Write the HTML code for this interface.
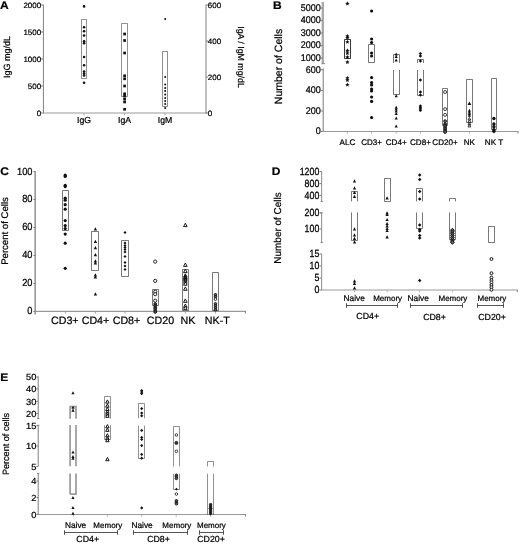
<!DOCTYPE html>
<html><head><meta charset="utf-8"><title>Figure</title>
<style>
html,body{margin:0;padding:0;background:#fff;}
svg{display:block;}
text{font-family:"Liberation Sans",sans-serif;fill:#000;stroke:#000;stroke-width:0.22px;text-rendering:geometricPrecision;}
</style></head>
<body>
<svg width="520" height="547" viewBox="0 0 520 547">
<rect width="520" height="547" fill="#fff"/>
<g id="A">
<text transform="translate(0 8.8) scale(1 0.92)" font-size="12" text-anchor="start" font-weight="bold">A</text>
<line x1="43.4" y1="4.5" x2="43.4" y2="113.5" stroke="#707070" stroke-width="0.9"/>
<line x1="43" y1="113" x2="207" y2="113" stroke="#999" stroke-width="1.2"/>
<line x1="206" y1="4.5" x2="206" y2="113.5" stroke="#707070" stroke-width="0.9"/>
<line x1="41" y1="5" x2="43" y2="5" stroke="#7f7f7f" stroke-width="1"/>
<text transform="translate(41.2 7.78) scale(1 0.97)" font-size="8.0" text-anchor="end">2000</text>
<line x1="41" y1="32" x2="43" y2="32" stroke="#7f7f7f" stroke-width="1"/>
<text transform="translate(41.2 34.78) scale(1 0.97)" font-size="8.0" text-anchor="end">1500</text>
<line x1="41" y1="59" x2="43" y2="59" stroke="#7f7f7f" stroke-width="1"/>
<text transform="translate(41.2 61.78) scale(1 0.97)" font-size="8.0" text-anchor="end">1000</text>
<line x1="41" y1="86" x2="43" y2="86" stroke="#7f7f7f" stroke-width="1"/>
<text transform="translate(41.2 88.78) scale(1 0.97)" font-size="8.0" text-anchor="end">500</text>
<line x1="41" y1="113" x2="43" y2="113" stroke="#7f7f7f" stroke-width="1"/>
<text transform="translate(41.2 115.78) scale(1 0.97)" font-size="8.0" text-anchor="end">0</text>
<line x1="206" y1="5" x2="208" y2="5" stroke="#7f7f7f" stroke-width="1"/>
<text transform="translate(207.8 7.78) scale(1 0.97)" font-size="8.0" text-anchor="start">600</text>
<line x1="206" y1="41" x2="208" y2="41" stroke="#7f7f7f" stroke-width="1"/>
<text transform="translate(207.8 43.78) scale(1 0.97)" font-size="8.0" text-anchor="start">400</text>
<line x1="206" y1="77" x2="208" y2="77" stroke="#7f7f7f" stroke-width="1"/>
<text transform="translate(207.8 79.78) scale(1 0.97)" font-size="8.0" text-anchor="start">200</text>
<line x1="206" y1="113" x2="208" y2="113" stroke="#7f7f7f" stroke-width="1"/>
<text transform="translate(207.8 115.78) scale(1 0.97)" font-size="8.0" text-anchor="start">0</text>
<text transform="translate(9.5 57) rotate(-90)" font-size="9" text-anchor="middle">IgG mg/dL</text>
<text transform="translate(238 57) rotate(90)" font-size="8.8" text-anchor="middle">IgA / IgM mg/dL</text>
<line x1="84" y1="113.5" x2="84" y2="115.2" stroke="#999" stroke-width="0.9"/>
<text transform="translate(84 123.1)" font-size="8.7" text-anchor="middle">IgG</text>
<line x1="124.6" y1="113.5" x2="124.6" y2="115.2" stroke="#999" stroke-width="0.9"/>
<text transform="translate(124.6 123.1)" font-size="8.7" text-anchor="middle">IgA</text>
<line x1="165" y1="113.5" x2="165" y2="115.2" stroke="#999" stroke-width="0.9"/>
<text transform="translate(165 123.1)" font-size="8.7" text-anchor="middle">IgM</text>
<path d="M81.5 78.5L81.5 19.5L86.5 19.5L86.5 78.5L81.5 78.5" fill="none" stroke="#444" stroke-width="0.6"/>
<circle cx="84.1" cy="6.4" r="1.3" fill="#111" stroke="none" stroke-width="0.7"/>
<circle cx="84.1" cy="27.2" r="1.3" fill="#111" stroke="none" stroke-width="0.7"/>
<circle cx="84.1" cy="31.2" r="1.3" fill="#111" stroke="none" stroke-width="0.7"/>
<circle cx="84.1" cy="35.5" r="1.3" fill="#111" stroke="none" stroke-width="0.7"/>
<circle cx="84.1" cy="41.2" r="1.3" fill="#111" stroke="none" stroke-width="0.7"/>
<circle cx="84.1" cy="43.2" r="1.3" fill="#111" stroke="none" stroke-width="0.7"/>
<circle cx="84.1" cy="57" r="1.3" fill="#111" stroke="none" stroke-width="0.7"/>
<circle cx="84.1" cy="65.2" r="1.3" fill="#111" stroke="none" stroke-width="0.7"/>
<circle cx="84.1" cy="71.5" r="1.3" fill="#111" stroke="none" stroke-width="0.7"/>
<circle cx="84.1" cy="73.5" r="1.3" fill="#111" stroke="none" stroke-width="0.7"/>
<circle cx="84.1" cy="75.5" r="1.3" fill="#111" stroke="none" stroke-width="0.7"/>
<circle cx="84.1" cy="82.8" r="1.3" fill="#111" stroke="none" stroke-width="0.7"/>
<path d="M121.5 96.5L121.5 23.5L127.5 23.5L127.5 96.5L121.5 96.5" fill="none" stroke="#444" stroke-width="0.6"/>
<rect x="123.25" y="32.65" width="2.7" height="2.7" fill="#111"/>
<rect x="123.25" y="39.15" width="2.7" height="2.7" fill="#111"/>
<rect x="123.25" y="51.65" width="2.7" height="2.7" fill="#111"/>
<rect x="123.25" y="74.45" width="2.7" height="2.7" fill="#111"/>
<rect x="123.25" y="77.45" width="2.7" height="2.7" fill="#111"/>
<rect x="123.25" y="84.65" width="2.7" height="2.7" fill="#111"/>
<rect x="123.25" y="92.45" width="2.7" height="2.7" fill="#111"/>
<rect x="123.25" y="94.65" width="2.7" height="2.7" fill="#111"/>
<rect x="123.25" y="97.65" width="2.7" height="2.7" fill="#111"/>
<rect x="123.25" y="100.65" width="2.7" height="2.7" fill="#111"/>
<rect x="123.25" y="107.95" width="2.7" height="2.7" fill="#111"/>
<path d="M162.5 106.5L162.5 51.5L167.5 51.5L167.5 106.5L162.5 106.5" fill="none" stroke="#444" stroke-width="0.6"/>
<circle cx="165.2" cy="19" r="1.0" fill="#111" stroke="none" stroke-width="0.7"/>
<circle cx="165.2" cy="77" r="1.0" fill="#111" stroke="none" stroke-width="0.7"/>
<circle cx="165.2" cy="84.5" r="1.0" fill="#111" stroke="none" stroke-width="0.7"/>
<circle cx="165.2" cy="88" r="1.0" fill="#111" stroke="none" stroke-width="0.7"/>
<circle cx="165.2" cy="91" r="1.0" fill="#111" stroke="none" stroke-width="0.7"/>
<circle cx="165.2" cy="94.5" r="1.0" fill="#111" stroke="none" stroke-width="0.7"/>
<circle cx="165.2" cy="98" r="1.0" fill="#111" stroke="none" stroke-width="0.7"/>
<circle cx="165.2" cy="101" r="1.0" fill="#111" stroke="none" stroke-width="0.7"/>
<circle cx="165.2" cy="104" r="1.0" fill="#111" stroke="none" stroke-width="0.7"/>
<circle cx="165.2" cy="108" r="1.0" fill="#111" stroke="none" stroke-width="0.7"/>
</g>
<g id="B">
<text transform="translate(273 8.8) scale(1 0.92)" font-size="12" text-anchor="start" font-weight="bold">B</text>
<line x1="322.8" y1="2" x2="322.8" y2="63.5" stroke="#a8a8a8" stroke-width="2.3"/>
<line x1="323.2" y1="68.2" x2="323.2" y2="131.5" stroke="#868686" stroke-width="1.1"/>
<line x1="321.5" y1="63.7" x2="325" y2="63.7" stroke="#7f7f7f" stroke-width="1"/>
<line x1="323" y1="131.5" x2="518.5" y2="131.5" stroke="#999" stroke-width="1.2"/>
<line x1="518" y1="131.5" x2="518" y2="133.5" stroke="#7f7f7f" stroke-width="1"/>
<line x1="320.6" y1="8" x2="323" y2="8" stroke="#7f7f7f" stroke-width="1"/>
<text transform="translate(320.7 10.88) scale(1 1.08)" font-size="9.0" text-anchor="end">5000</text>
<line x1="320.6" y1="20.4" x2="323" y2="20.4" stroke="#7f7f7f" stroke-width="1"/>
<text transform="translate(320.7 23.28) scale(1 1.08)" font-size="9.0" text-anchor="end">4000</text>
<line x1="320.6" y1="33" x2="323" y2="33" stroke="#7f7f7f" stroke-width="1"/>
<text transform="translate(320.7 35.88) scale(1 1.08)" font-size="9.0" text-anchor="end">3000</text>
<line x1="320.6" y1="45.6" x2="323" y2="45.6" stroke="#7f7f7f" stroke-width="1"/>
<text transform="translate(320.7 48.48) scale(1 1.08)" font-size="9.0" text-anchor="end">2000</text>
<line x1="320.6" y1="58" x2="323" y2="58" stroke="#7f7f7f" stroke-width="1"/>
<text transform="translate(320.7 60.88) scale(1 1.08)" font-size="9.0" text-anchor="end">1000</text>
<line x1="320.6" y1="69.8" x2="323" y2="69.8" stroke="#7f7f7f" stroke-width="1"/>
<text transform="translate(320.7 72.68) scale(1 1.08)" font-size="9.0" text-anchor="end">600</text>
<line x1="320.6" y1="90.4" x2="323" y2="90.4" stroke="#7f7f7f" stroke-width="1"/>
<text transform="translate(320.7 93.28) scale(1 1.08)" font-size="9.0" text-anchor="end">400</text>
<line x1="320.6" y1="111" x2="323" y2="111" stroke="#7f7f7f" stroke-width="1"/>
<text transform="translate(320.7 113.88) scale(1 1.08)" font-size="9.0" text-anchor="end">200</text>
<line x1="320.6" y1="131.4" x2="323" y2="131.4" stroke="#7f7f7f" stroke-width="1"/>
<text transform="translate(320.7 134.28) scale(1 1.08)" font-size="9.0" text-anchor="end">0</text>
<text transform="translate(282.4 66.5) rotate(-90)" font-size="10.5" text-anchor="middle">Number of Cells</text>
<line x1="347.4" y1="132" x2="347.4" y2="133.6" stroke="#aaa" stroke-width="0.9"/>
<text transform="translate(347.4 144.8)" font-size="8.1" text-anchor="middle">ALC</text>
<line x1="371.6" y1="132" x2="371.6" y2="133.6" stroke="#aaa" stroke-width="0.9"/>
<text transform="translate(371.6 144.8)" font-size="8.1" text-anchor="middle">CD3+</text>
<line x1="396.2" y1="132" x2="396.2" y2="133.6" stroke="#aaa" stroke-width="0.9"/>
<text transform="translate(396.2 144.8)" font-size="8.1" text-anchor="middle">CD4+</text>
<line x1="420.4" y1="132" x2="420.4" y2="133.6" stroke="#aaa" stroke-width="0.9"/>
<text transform="translate(420.4 144.8)" font-size="8.1" text-anchor="middle">CD8+</text>
<line x1="445" y1="132" x2="445" y2="133.6" stroke="#aaa" stroke-width="0.9"/>
<text transform="translate(445 144.8)" font-size="8.1" text-anchor="middle">CD20+</text>
<line x1="469.4" y1="132" x2="469.4" y2="133.6" stroke="#aaa" stroke-width="0.9"/>
<text transform="translate(469.4 144.8)" font-size="8.1" text-anchor="middle">NK</text>
<line x1="494" y1="132" x2="494" y2="133.6" stroke="#aaa" stroke-width="0.9"/>
<text transform="translate(494 144.8)" font-size="8.1" text-anchor="middle">NK T</text>
<path d="M344.5 58.5L344.5 39.5L350.5 39.5L350.5 58.5L344.5 58.5" fill="none" stroke="#222" stroke-width="0.9"/>
<polygon points="347.40,1.30 348.01,2.76 349.59,2.89 348.38,3.92 348.75,5.46 347.40,4.63 346.05,5.46 346.42,3.92 345.21,2.89 346.79,2.76" fill="#111"/>
<polygon points="347.40,33.90 348.01,35.36 349.59,35.49 348.38,36.52 348.75,38.06 347.40,37.23 346.05,38.06 346.42,36.52 345.21,35.49 346.79,35.36" fill="#111"/>
<polygon points="347.40,35.30 348.01,36.76 349.59,36.89 348.38,37.92 348.75,39.46 347.40,38.63 346.05,39.46 346.42,37.92 345.21,36.89 346.79,36.76" fill="#111"/>
<polygon points="347.40,39.70 348.01,41.16 349.59,41.29 348.38,42.32 348.75,43.86 347.40,43.03 346.05,43.86 346.42,42.32 345.21,41.29 346.79,41.16" fill="#111"/>
<polygon points="347.40,48.30 348.01,49.76 349.59,49.89 348.38,50.92 348.75,52.46 347.40,51.63 346.05,52.46 346.42,50.92 345.21,49.89 346.79,49.76" fill="#111"/>
<polygon points="347.40,51.00 348.01,52.46 349.59,52.59 348.38,53.62 348.75,55.16 347.40,54.33 346.05,55.16 346.42,53.62 345.21,52.59 346.79,52.46" fill="#111"/>
<polygon points="347.40,54.90 348.01,56.36 349.59,56.49 348.38,57.52 348.75,59.06 347.40,58.23 346.05,59.06 346.42,57.52 345.21,56.49 346.79,56.36" fill="#111"/>
<polygon points="347.40,59.90 348.01,61.36 349.59,61.49 348.38,62.52 348.75,64.06 347.40,63.23 346.05,64.06 346.42,62.52 345.21,61.49 346.79,61.36" fill="#111"/>
<polygon points="347.40,75.70 348.01,77.16 349.59,77.29 348.38,78.32 348.75,79.86 347.40,79.03 346.05,79.86 346.42,78.32 345.21,77.29 346.79,77.16" fill="#111"/>
<polygon points="347.40,77.90 348.01,79.36 349.59,79.49 348.38,80.52 348.75,82.06 347.40,81.23 346.05,82.06 346.42,80.52 345.21,79.49 346.79,79.36" fill="#111"/>
<polygon points="347.40,82.50 348.01,83.96 349.59,84.09 348.38,85.12 348.75,86.66 347.40,85.83 346.05,86.66 346.42,85.12 345.21,84.09 346.79,83.96" fill="#111"/>
<path d="M368.5 62.5L368.5 44.5L374.5 44.5L374.5 62.5L368.5 62.5" fill="none" stroke="#303030" stroke-width="0.65"/>
<circle cx="371.6" cy="11" r="1.6" fill="#111" stroke="none" stroke-width="0.7"/>
<circle cx="371.6" cy="39" r="1.6" fill="#111" stroke="none" stroke-width="0.7"/>
<circle cx="371.6" cy="42.6" r="1.6" fill="#111" stroke="none" stroke-width="0.7"/>
<circle cx="371.6" cy="53" r="1.6" fill="#111" stroke="none" stroke-width="0.7"/>
<circle cx="371.6" cy="56" r="1.6" fill="#111" stroke="none" stroke-width="0.7"/>
<circle cx="371.6" cy="77.6" r="1.6" fill="#111" stroke="none" stroke-width="0.7"/>
<circle cx="371.6" cy="82.6" r="1.6" fill="#111" stroke="none" stroke-width="0.7"/>
<circle cx="371.6" cy="85" r="1.6" fill="#111" stroke="none" stroke-width="0.7"/>
<circle cx="371.6" cy="89" r="1.6" fill="#111" stroke="none" stroke-width="0.7"/>
<circle cx="371.6" cy="91" r="1.6" fill="#111" stroke="none" stroke-width="0.7"/>
<circle cx="371.6" cy="97" r="1.6" fill="#111" stroke="none" stroke-width="0.7"/>
<circle cx="371.6" cy="101.4" r="1.6" fill="#111" stroke="none" stroke-width="0.7"/>
<circle cx="371.6" cy="117.6" r="1.6" fill="#111" stroke="none" stroke-width="0.7"/>
<path d="M393.5 63L393.5 54.5L399.5 54.5L399.5 63" fill="none" stroke="#303030" stroke-width="0.65"/>
<path d="M393.5 94.5L393.5 70M399.5 70L399.5 94.5L393.5 94.5" fill="none" stroke="#303030" stroke-width="0.65"/>
<path d="M396.2 52.4L397.8 55.44L394.59999999999997 55.44Z" fill="#111" stroke="none" stroke-width="0.7"/>
<path d="M396.2 54.9L397.8 57.94L394.59999999999997 57.94Z" fill="#111" stroke="none" stroke-width="0.7"/>
<path d="M396.2 58.4L397.8 61.44L394.59999999999997 61.44Z" fill="#111" stroke="none" stroke-width="0.7"/>
<path d="M396.2 94.2L397.8 97.24L394.59999999999997 97.24Z" fill="#111" stroke="none" stroke-width="0.7"/>
<path d="M396.2 105.80000000000001L397.8 108.84L394.59999999999997 108.84Z" fill="#111" stroke="none" stroke-width="0.7"/>
<path d="M396.2 107.4L397.8 110.44L394.59999999999997 110.44Z" fill="#111" stroke="none" stroke-width="0.7"/>
<path d="M396.2 109.4L397.8 112.44L394.59999999999997 112.44Z" fill="#111" stroke="none" stroke-width="0.7"/>
<path d="M396.2 112.0L397.8 115.03999999999999L394.59999999999997 115.03999999999999Z" fill="#111" stroke="none" stroke-width="0.7"/>
<path d="M396.2 116.4L397.8 119.44L394.59999999999997 119.44Z" fill="#111" stroke="none" stroke-width="0.7"/>
<path d="M396.2 124.4L397.8 127.44L394.59999999999997 127.44Z" fill="#111" stroke="none" stroke-width="0.7"/>
<path d="M417.5 63L417.5 59.5L423.5 59.5L423.5 63" fill="none" stroke="#303030" stroke-width="0.65"/>
<path d="M417.5 95.5L417.5 70M423.5 70L423.5 95.5L417.5 95.5" fill="none" stroke="#303030" stroke-width="0.65"/>
<path d="M420.4 51.9L422.09999999999997 53.6L420.4 55.300000000000004L418.7 53.6Z" fill="#111" stroke="none" stroke-width="0.7"/>
<path d="M420.4 54.3L422.09999999999997 56L420.4 57.7L418.7 56Z" fill="#111" stroke="none" stroke-width="0.7"/>
<path d="M420.4 59.3L422.09999999999997 61L420.4 62.7L418.7 61Z" fill="#111" stroke="none" stroke-width="0.7"/>
<path d="M420.4 78.3L422.09999999999997 80L420.4 81.7L418.7 80Z" fill="#111" stroke="none" stroke-width="0.7"/>
<path d="M420.4 90.3L422.09999999999997 92L420.4 93.7L418.7 92Z" fill="#111" stroke="none" stroke-width="0.7"/>
<path d="M420.4 93.3L422.09999999999997 95L420.4 96.7L418.7 95Z" fill="#111" stroke="none" stroke-width="0.7"/>
<path d="M420.4 104.3L422.09999999999997 106L420.4 107.7L418.7 106Z" fill="#111" stroke="none" stroke-width="0.7"/>
<path d="M420.4 105.89999999999999L422.09999999999997 107.6L420.4 109.3L418.7 107.6Z" fill="#111" stroke="none" stroke-width="0.7"/>
<path d="M420.4 107.3L422.09999999999997 109L420.4 110.7L418.7 109Z" fill="#111" stroke="none" stroke-width="0.7"/>
<path d="M420.4 108.7L422.09999999999997 110.4L420.4 112.10000000000001L418.7 110.4Z" fill="#111" stroke="none" stroke-width="0.7"/>
<path d="M442.5 125.5L442.5 88.5L447.5 88.5L447.5 125.5L442.5 125.5" fill="none" stroke="#303030" stroke-width="0.65"/>
<circle cx="445.1" cy="92" r="1.5" fill="#fff" stroke="#111" stroke-width="0.8"/>
<circle cx="445.1" cy="109.1" r="1.5" fill="#fff" stroke="#111" stroke-width="0.8"/>
<circle cx="445.1" cy="114.9" r="1.5" fill="#fff" stroke="#111" stroke-width="0.8"/>
<circle cx="445.1" cy="121.2" r="1.4" fill="#777" stroke="#111" stroke-width="1.0"/>
<circle cx="445.1" cy="124.2" r="1.4" fill="#777" stroke="#111" stroke-width="1.0"/>
<circle cx="445.1" cy="125.8" r="1.4" fill="#777" stroke="#111" stroke-width="1.0"/>
<circle cx="445.1" cy="127.4" r="1.4" fill="#777" stroke="#111" stroke-width="1.0"/>
<circle cx="445.1" cy="129" r="1.4" fill="#777" stroke="#111" stroke-width="1.0"/>
<circle cx="445.1" cy="130.6" r="1.4" fill="#777" stroke="#111" stroke-width="1.0"/>
<circle cx="445.1" cy="132" r="1.4" fill="#777" stroke="#111" stroke-width="1.0"/>
<path d="M466.5 122.5L466.5 79.5L472.5 79.5L472.5 122.5L466.5 122.5" fill="none" stroke="#303030" stroke-width="0.65"/>
<path d="M469.4 101.5L471.29999999999995 105.11L467.5 105.11Z" fill="#111" stroke="none" stroke-width="0.7"/>
<path d="M469.4 108.80000000000001L471.0 111.84L467.79999999999995 111.84Z" fill="#111" stroke="none" stroke-width="0.7"/>
<path d="M469.4 110.4L471.0 113.44L467.79999999999995 113.44Z" fill="#111" stroke="none" stroke-width="0.7"/>
<path d="M469.4 112.0L471.0 115.03999999999999L467.79999999999995 115.03999999999999Z" fill="#111" stroke="none" stroke-width="0.7"/>
<path d="M469.4 113.60000000000001L471.0 116.64L467.79999999999995 116.64Z" fill="#111" stroke="none" stroke-width="0.7"/>
<path d="M469.4 117.3L470.79999999999995 119.96000000000001L468.0 119.96000000000001Z" fill="#fff" stroke="#111" stroke-width="0.8"/>
<path d="M469.4 119.8L470.79999999999995 122.46000000000001L468.0 122.46000000000001Z" fill="#fff" stroke="#111" stroke-width="0.8"/>
<path d="M469.4 122.3L470.79999999999995 124.96000000000001L468.0 124.96000000000001Z" fill="#fff" stroke="#111" stroke-width="0.8"/>
<path d="M469.4 124.3L470.79999999999995 126.96000000000001L468.0 126.96000000000001Z" fill="#fff" stroke="#111" stroke-width="0.8"/>
<path d="M491.5 129.5L491.5 78.5L496.5 78.5L496.5 129.5L491.5 129.5" fill="none" stroke="#303030" stroke-width="0.65"/>
<circle cx="493.9" cy="118.5" r="1.7" fill="#111" stroke="none" stroke-width="0.7"/>
<circle cx="493.9" cy="124" r="1.7" fill="#111" stroke="none" stroke-width="0.7"/>
<circle cx="493.9" cy="126.8" r="1.7" fill="#111" stroke="none" stroke-width="0.7"/>
<circle cx="493.9" cy="129.8" r="1.7" fill="#111" stroke="none" stroke-width="0.7"/>
<circle cx="493.9" cy="131.3" r="1.7" fill="#111" stroke="none" stroke-width="0.7"/>
</g>
<g id="C">
<text transform="translate(0.2 174.7) scale(1 0.92)" font-size="12" text-anchor="start" font-weight="bold">C</text>
<line x1="35.15" y1="171" x2="35.15" y2="314.5" stroke="#8a8a8a" stroke-width="1.4"/>
<line x1="35" y1="311.3" x2="246" y2="311.3" stroke="#808080" stroke-width="1.0"/>
<line x1="245.4" y1="311.5" x2="245.4" y2="313.5" stroke="#7f7f7f" stroke-width="1"/>
<line x1="33.4" y1="171.6" x2="35.2" y2="171.6" stroke="#7f7f7f" stroke-width="1"/>
<text transform="translate(32.5 174.56) scale(1 1.1)" font-size="9.3" text-anchor="end">100</text>
<line x1="33.4" y1="199.5" x2="35.2" y2="199.5" stroke="#7f7f7f" stroke-width="1"/>
<text transform="translate(32.5 202.46) scale(1 1.1)" font-size="9.3" text-anchor="end">80</text>
<line x1="33.4" y1="227.5" x2="35.2" y2="227.5" stroke="#7f7f7f" stroke-width="1"/>
<text transform="translate(32.5 230.46) scale(1 1.1)" font-size="9.3" text-anchor="end">60</text>
<line x1="33.4" y1="255.5" x2="35.2" y2="255.5" stroke="#7f7f7f" stroke-width="1"/>
<text transform="translate(32.5 258.46) scale(1 1.1)" font-size="9.3" text-anchor="end">40</text>
<line x1="33.4" y1="283.5" x2="35.2" y2="283.5" stroke="#7f7f7f" stroke-width="1"/>
<text transform="translate(32.5 286.46) scale(1 1.1)" font-size="9.3" text-anchor="end">20</text>
<line x1="33.4" y1="311.5" x2="35.2" y2="311.5" stroke="#7f7f7f" stroke-width="1"/>
<text transform="translate(32.5 314.46) scale(1 1.1)" font-size="9.3" text-anchor="end">0</text>
<text transform="translate(8.2 231) rotate(-90)" font-size="9.6" text-anchor="middle">Percent of Cells</text>
<line x1="65.4" y1="311.8" x2="65.4" y2="313.6" stroke="#999" stroke-width="0.9"/>
<line x1="95.4" y1="311.8" x2="95.4" y2="313.6" stroke="#999" stroke-width="0.9"/>
<line x1="125" y1="311.8" x2="125" y2="313.6" stroke="#999" stroke-width="0.9"/>
<line x1="155.4" y1="311.8" x2="155.4" y2="313.6" stroke="#999" stroke-width="0.9"/>
<line x1="185.4" y1="311.8" x2="185.4" y2="313.6" stroke="#999" stroke-width="0.9"/>
<line x1="215.4" y1="311.8" x2="215.4" y2="313.6" stroke="#999" stroke-width="0.9"/>
<text transform="translate(64.8 323.9)" font-size="10.7" text-anchor="middle">CD3+</text>
<text transform="translate(95.5 323.9)" font-size="10.7" text-anchor="middle">CD4+</text>
<text transform="translate(126.5 323.9)" font-size="10.7" text-anchor="middle">CD8+</text>
<text transform="translate(160.5 323.9)" font-size="10.7" text-anchor="middle">CD20</text>
<text transform="translate(188 323.9)" font-size="10.7" text-anchor="middle">NK</text>
<text transform="translate(217.3 323.9)" font-size="10.7" text-anchor="middle">NK-T</text>
<path d="M62.5 230.5L62.5 190.5L68.5 190.5L68.5 230.5L62.5 230.5" fill="none" stroke="#303030" stroke-width="0.65"/>
<circle cx="65.2" cy="175.2" r="1.6" fill="#111" stroke="none" stroke-width="0.7"/>
<circle cx="65.2" cy="176.5" r="1.6" fill="#111" stroke="none" stroke-width="0.7"/>
<circle cx="65.2" cy="185.3" r="1.6" fill="#111" stroke="none" stroke-width="0.7"/>
<circle cx="65.2" cy="186.6" r="1.6" fill="#111" stroke="none" stroke-width="0.7"/>
<circle cx="65.2" cy="198.2" r="1.6" fill="#111" stroke="none" stroke-width="0.7"/>
<circle cx="65.2" cy="200.2" r="1.6" fill="#111" stroke="none" stroke-width="0.7"/>
<circle cx="65.2" cy="204.7" r="1.6" fill="#111" stroke="none" stroke-width="0.7"/>
<circle cx="65.2" cy="209.2" r="1.6" fill="#111" stroke="none" stroke-width="0.7"/>
<circle cx="65.2" cy="220.6" r="1.6" fill="#111" stroke="none" stroke-width="0.7"/>
<circle cx="65.2" cy="225.6" r="1.6" fill="#111" stroke="none" stroke-width="0.7"/>
<circle cx="65.2" cy="228.6" r="1.6" fill="#111" stroke="none" stroke-width="0.7"/>
<circle cx="65.2" cy="234.1" r="1.6" fill="#111" stroke="none" stroke-width="0.7"/>
<circle cx="65.2" cy="243.2" r="1.6" fill="#111" stroke="none" stroke-width="0.7"/>
<circle cx="65.2" cy="268.3" r="1.6" fill="#111" stroke="none" stroke-width="0.7"/>
<path d="M91.5 270.5L91.5 231.5L98.5 231.5L98.5 270.5L91.5 270.5" fill="none" stroke="#303030" stroke-width="0.65"/>
<path d="M95.4 227.3L97.10000000000001 230.53L93.7 230.53Z" fill="#111" stroke="none" stroke-width="0.7"/>
<path d="M95.4 239.70000000000002L97.10000000000001 242.93L93.7 242.93Z" fill="#111" stroke="none" stroke-width="0.7"/>
<path d="M95.4 245.9L97.10000000000001 249.13L93.7 249.13Z" fill="#111" stroke="none" stroke-width="0.7"/>
<path d="M95.4 252.9L97.10000000000001 256.13L93.7 256.13Z" fill="#111" stroke="none" stroke-width="0.7"/>
<path d="M95.4 259.3L97.10000000000001 262.53L93.7 262.53Z" fill="#111" stroke="none" stroke-width="0.7"/>
<path d="M95.4 261.3L97.10000000000001 264.53L93.7 264.53Z" fill="#111" stroke="none" stroke-width="0.7"/>
<path d="M95.4 273.3L97.10000000000001 276.53L93.7 276.53Z" fill="#111" stroke="none" stroke-width="0.7"/>
<path d="M95.4 275.3L97.10000000000001 278.53L93.7 278.53Z" fill="#111" stroke="none" stroke-width="0.7"/>
<path d="M95.4 292.3L97.10000000000001 295.53L93.7 295.53Z" fill="#111" stroke="none" stroke-width="0.7"/>
<path d="M121.5 276.5L121.5 240.5L128.5 240.5L128.5 276.5L121.5 276.5" fill="none" stroke="#303030" stroke-width="0.65"/>
<path d="M125 230.9L126.5 232.4L125 233.9L123.5 232.4Z" fill="#111" stroke="none" stroke-width="0.7"/>
<path d="M125 241.5L126.5 243L125 244.5L123.5 243Z" fill="#111" stroke="none" stroke-width="0.7"/>
<path d="M125 243.9L126.5 245.4L125 246.9L123.5 245.4Z" fill="#111" stroke="none" stroke-width="0.7"/>
<path d="M125 245.9L126.5 247.4L125 248.9L123.5 247.4Z" fill="#111" stroke="none" stroke-width="0.7"/>
<path d="M125 247.9L126.5 249.4L125 250.9L123.5 249.4Z" fill="#111" stroke="none" stroke-width="0.7"/>
<path d="M125 250.5L126.5 252L125 253.5L123.5 252Z" fill="#111" stroke="none" stroke-width="0.7"/>
<path d="M125 255.10000000000002L126.5 256.6L125 258.1L123.5 256.6Z" fill="#111" stroke="none" stroke-width="0.7"/>
<path d="M125 260.9L126.5 262.4L125 263.9L123.5 262.4Z" fill="#111" stroke="none" stroke-width="0.7"/>
<path d="M125 264.5L126.5 266L125 267.5L123.5 266Z" fill="#111" stroke="none" stroke-width="0.7"/>
<path d="M125 268.1L126.5 269.6L125 271.1L123.5 269.6Z" fill="#111" stroke="none" stroke-width="0.7"/>
<path d="M152.5 305.5L152.5 289.5L158.5 289.5L158.5 305.5L152.5 305.5" fill="none" stroke="#303030" stroke-width="0.65"/>
<circle cx="155.2" cy="261.6" r="1.6" fill="#fff" stroke="#111" stroke-width="0.9"/>
<circle cx="155.2" cy="280.9" r="1.6" fill="#fff" stroke="#111" stroke-width="0.9"/>
<circle cx="155.2" cy="291.7" r="1.6" fill="#fff" stroke="#111" stroke-width="0.9"/>
<circle cx="155.2" cy="294.2" r="1.6" fill="#fff" stroke="#111" stroke-width="0.9"/>
<circle cx="155.2" cy="300.7" r="1.6" fill="#fff" stroke="#111" stroke-width="0.9"/>
<circle cx="155.2" cy="304" r="1.3" fill="#666" stroke="#111" stroke-width="1.0"/>
<circle cx="155.2" cy="305.6" r="1.3" fill="#666" stroke="#111" stroke-width="1.0"/>
<circle cx="155.2" cy="307.2" r="1.3" fill="#666" stroke="#111" stroke-width="1.0"/>
<circle cx="155.2" cy="308.8" r="1.3" fill="#666" stroke="#111" stroke-width="1.0"/>
<circle cx="155.2" cy="310.4" r="1.3" fill="#666" stroke="#111" stroke-width="1.0"/>
<circle cx="155.2" cy="312" r="1.3" fill="#666" stroke="#111" stroke-width="1.0"/>
<path d="M182.5 310.5L182.5 269.5L188.5 269.5L188.5 310.5L182.5 310.5" fill="none" stroke="#303030" stroke-width="0.65"/>
<path d="M185.35 223.2L187.15 226.62L183.54999999999998 226.62Z" fill="#fff" stroke="#111" stroke-width="0.95"/>
<path d="M185.35 263.0L187.15 266.42L183.54999999999998 266.42Z" fill="#fff" stroke="#111" stroke-width="0.95"/>
<path d="M185.35 269.2L187.15 272.62L183.54999999999998 272.62Z" fill="#fff" stroke="#111" stroke-width="0.95"/>
<path d="M185.35 279.8L187.15 283.22L183.54999999999998 283.22Z" fill="#fff" stroke="#111" stroke-width="0.95"/>
<path d="M185.35 281.8L187.15 285.22L183.54999999999998 285.22Z" fill="#fff" stroke="#111" stroke-width="0.95"/>
<path d="M185.35 286.9L187.15 290.32L183.54999999999998 290.32Z" fill="#fff" stroke="#111" stroke-width="0.95"/>
<path d="M185.35 298.9L187.15 302.32L183.54999999999998 302.32Z" fill="#fff" stroke="#111" stroke-width="0.95"/>
<path d="M185.35 304.0L187.15 307.42L183.54999999999998 307.42Z" fill="#fff" stroke="#111" stroke-width="0.95"/>
<path d="M185.35 306.0L187.15 309.42L183.54999999999998 309.42Z" fill="#fff" stroke="#111" stroke-width="0.95"/>
<path d="M185.35 273.8L187.15 277.22L183.54999999999998 277.22Z" fill="#444" stroke="#111" stroke-width="0.95"/>
<path d="M185.35 275.2L187.15 278.62L183.54999999999998 278.62Z" fill="#444" stroke="#111" stroke-width="0.95"/>
<path d="M185.35 276.59999999999997L187.15 280.02L183.54999999999998 280.02Z" fill="#444" stroke="#111" stroke-width="0.95"/>
<path d="M185.35 277.8L187.15 281.22L183.54999999999998 281.22Z" fill="#444" stroke="#111" stroke-width="0.95"/>
<path d="M212.5 310.5L212.5 272.5L218.5 272.5L218.5 310.5L212.5 310.5" fill="none" stroke="#303030" stroke-width="0.65"/>
<circle cx="215.45" cy="294.7" r="1.3" fill="#666" stroke="#111" stroke-width="0.9"/>
<circle cx="215.45" cy="296.7" r="1.3" fill="#666" stroke="#111" stroke-width="0.9"/>
<circle cx="215.45" cy="303.8" r="1.3" fill="#666" stroke="#111" stroke-width="0.9"/>
<circle cx="215.45" cy="305.8" r="1.3" fill="#666" stroke="#111" stroke-width="0.9"/>
<circle cx="215.45" cy="307.8" r="1.3" fill="#666" stroke="#111" stroke-width="0.9"/>
<circle cx="215.45" cy="309.8" r="1.3" fill="#666" stroke="#111" stroke-width="0.9"/>
<circle cx="215.45" cy="299.2" r="1.3" fill="#fff" stroke="#111" stroke-width="0.9"/>
</g>
<g id="D">
<text transform="translate(271.8 175.2) scale(1 0.92)" font-size="12" text-anchor="start" font-weight="bold">D</text>
<line x1="321.65" y1="171" x2="321.65" y2="201.6" stroke="#7f7f7f" stroke-width="0.9"/>
<line x1="321.65" y1="212.9" x2="321.65" y2="242.6" stroke="#7f7f7f" stroke-width="0.9"/>
<line x1="321.65" y1="253.6" x2="321.65" y2="290" stroke="#7f7f7f" stroke-width="0.9"/>
<line x1="320.6" y1="201.6" x2="322.8" y2="201.6" stroke="#7f7f7f" stroke-width="1"/>
<line x1="320" y1="212.9" x2="322.8" y2="212.9" stroke="#7f7f7f" stroke-width="1"/>
<line x1="320.6" y1="242.6" x2="322.8" y2="242.6" stroke="#7f7f7f" stroke-width="1"/>
<line x1="321.2" y1="290" x2="517.7" y2="290" stroke="#999" stroke-width="1.2"/>
<line x1="517.2" y1="290" x2="517.2" y2="292" stroke="#7f7f7f" stroke-width="1"/>
<line x1="319.6" y1="171.6" x2="321.6" y2="171.6" stroke="#7f7f7f" stroke-width="1"/>
<text transform="translate(319.3 174.92) scale(1 1.18)" font-size="8.8" text-anchor="end">1200</text>
<line x1="319.6" y1="183.6" x2="321.6" y2="183.6" stroke="#7f7f7f" stroke-width="1"/>
<text transform="translate(319.3 186.92) scale(1 1.18)" font-size="8.8" text-anchor="end">800</text>
<line x1="319.6" y1="195.4" x2="321.6" y2="195.4" stroke="#7f7f7f" stroke-width="1"/>
<text transform="translate(319.3 198.72) scale(1 1.18)" font-size="8.8" text-anchor="end">400</text>
<line x1="319.6" y1="212.9" x2="321.6" y2="212.9" stroke="#7f7f7f" stroke-width="1"/>
<text transform="translate(319.3 216.22) scale(1 1.18)" font-size="8.8" text-anchor="end">200</text>
<line x1="319.6" y1="229" x2="321.6" y2="229" stroke="#7f7f7f" stroke-width="1"/>
<text transform="translate(319.3 232.32) scale(1 1.18)" font-size="8.8" text-anchor="end">100</text>
<line x1="319.6" y1="254" x2="321.6" y2="254" stroke="#7f7f7f" stroke-width="1"/>
<text transform="translate(319.3 257.32) scale(1 1.18)" font-size="8.8" text-anchor="end">15</text>
<line x1="319.6" y1="266" x2="321.6" y2="266" stroke="#7f7f7f" stroke-width="1"/>
<text transform="translate(319.3 269.32) scale(1 1.18)" font-size="8.8" text-anchor="end">10</text>
<line x1="319.6" y1="278" x2="321.6" y2="278" stroke="#7f7f7f" stroke-width="1"/>
<text transform="translate(319.3 281.32) scale(1 1.18)" font-size="8.8" text-anchor="end">5</text>
<line x1="319.6" y1="290" x2="321.6" y2="290" stroke="#7f7f7f" stroke-width="1"/>
<text transform="translate(319.3 293.32) scale(1 1.18)" font-size="8.8" text-anchor="end">0</text>
<text transform="translate(281.4 228) rotate(-90)" font-size="9.95" text-anchor="middle">Number of Cells</text>
<line x1="354.6" y1="290.5" x2="354.6" y2="292.2" stroke="#aaa" stroke-width="0.9"/>
<line x1="387.2" y1="290.5" x2="387.2" y2="292.2" stroke="#aaa" stroke-width="0.9"/>
<line x1="419.6" y1="290.5" x2="419.6" y2="292.2" stroke="#aaa" stroke-width="0.9"/>
<line x1="452.4" y1="290.5" x2="452.4" y2="292.2" stroke="#aaa" stroke-width="0.9"/>
<line x1="491.4" y1="290.5" x2="491.4" y2="292.2" stroke="#aaa" stroke-width="0.9"/>
<text transform="translate(354.2 301.3)" font-size="8.3" text-anchor="middle">Naive</text>
<text transform="translate(387.6 301.3)" font-size="8.0" text-anchor="middle">Memory</text>
<text transform="translate(418.2 301.3)" font-size="8.3" text-anchor="middle">Naive</text>
<text transform="translate(452.9 301.3)" font-size="8.0" text-anchor="middle">Memory</text>
<text transform="translate(491.9 301.3)" font-size="8.0" text-anchor="middle">Memory</text>
<line x1="346.5" y1="305.5" x2="397.5" y2="305.5" stroke="#2a2a2a" stroke-width="0.8"/>
<line x1="346.5" y1="303.2" x2="346.5" y2="307.8" stroke="#2a2a2a" stroke-width="0.8"/>
<line x1="397.5" y1="303.2" x2="397.5" y2="307.8" stroke="#2a2a2a" stroke-width="0.8"/>
<line x1="410.5" y1="305.5" x2="462.5" y2="305.5" stroke="#2a2a2a" stroke-width="0.8"/>
<line x1="410.5" y1="303.2" x2="410.5" y2="307.8" stroke="#2a2a2a" stroke-width="0.8"/>
<line x1="462.5" y1="303.2" x2="462.5" y2="307.8" stroke="#2a2a2a" stroke-width="0.8"/>
<line x1="477.5" y1="305.5" x2="503.5" y2="305.5" stroke="#2a2a2a" stroke-width="0.8"/>
<line x1="477.5" y1="303.2" x2="477.5" y2="307.8" stroke="#2a2a2a" stroke-width="0.8"/>
<line x1="503.5" y1="303.2" x2="503.5" y2="307.8" stroke="#2a2a2a" stroke-width="0.8"/>
<text transform="translate(367.7 318.6)" font-size="8.8" text-anchor="middle">CD4+</text>
<text transform="translate(434.5 320.2)" font-size="8.8" text-anchor="middle">CD8+</text>
<text transform="translate(492 320.4)" font-size="8.8" text-anchor="middle">CD20+</text>
<path d="M351.5 201.4L351.5 191.5L357.5 191.5L357.5 201.4" fill="none" stroke="#303030" stroke-width="0.65"/>
<path d="M351.5 240.5L351.5 212.4M357.5 212.4L357.5 240.5L351.5 240.5" fill="none" stroke="#303030" stroke-width="0.65"/>
<path d="M354.5 179.35L356.15 182.485L352.85 182.485Z" fill="#111" stroke="none" stroke-width="0.7"/>
<path d="M354.5 186.35L356.15 189.485L352.85 189.485Z" fill="#111" stroke="none" stroke-width="0.7"/>
<path d="M354.5 190.75L356.15 193.88500000000002L352.85 193.88500000000002Z" fill="#111" stroke="none" stroke-width="0.7"/>
<path d="M354.5 194.75L356.15 197.88500000000002L352.85 197.88500000000002Z" fill="#111" stroke="none" stroke-width="0.7"/>
<path d="M354.5 227.35L356.15 230.485L352.85 230.485Z" fill="#111" stroke="none" stroke-width="0.7"/>
<path d="M354.5 233.35L356.15 236.485L352.85 236.485Z" fill="#111" stroke="none" stroke-width="0.7"/>
<path d="M354.5 236.75L356.15 239.88500000000002L352.85 239.88500000000002Z" fill="#111" stroke="none" stroke-width="0.7"/>
<path d="M354.5 240.35L356.15 243.485L352.85 243.485Z" fill="#111" stroke="none" stroke-width="0.7"/>
<path d="M354.5 279.35L356.15 282.485L352.85 282.485Z" fill="#111" stroke="none" stroke-width="0.7"/>
<path d="M354.5 281.75L356.15 284.885L352.85 284.885Z" fill="#111" stroke="none" stroke-width="0.7"/>
<path d="M354.5 286.35L356.15 289.485L352.85 289.485Z" fill="#111" stroke="none" stroke-width="0.7"/>
<path d="M384.5 201.5L384.5 178.5L390.5 178.5L390.5 201.5L384.5 201.5" fill="none" stroke="#303030" stroke-width="0.65"/>
<path d="M387.1 196.35L388.75 199.485L385.45000000000005 199.485Z" fill="#111" stroke="none" stroke-width="0.7"/>
<path d="M387.1 211.35L388.75 214.485L385.45000000000005 214.485Z" fill="#111" stroke="none" stroke-width="0.7"/>
<path d="M387.1 212.95L388.75 216.085L385.45000000000005 216.085Z" fill="#111" stroke="none" stroke-width="0.7"/>
<path d="M387.1 217.95L388.75 221.085L385.45000000000005 221.085Z" fill="#111" stroke="none" stroke-width="0.7"/>
<path d="M387.1 221.95L388.75 225.085L385.45000000000005 225.085Z" fill="#111" stroke="none" stroke-width="0.7"/>
<path d="M387.1 224.35L388.75 227.485L385.45000000000005 227.485Z" fill="#111" stroke="none" stroke-width="0.7"/>
<path d="M387.1 226.95L388.75 230.085L385.45000000000005 230.085Z" fill="#111" stroke="none" stroke-width="0.7"/>
<path d="M387.1 228.95L388.75 232.085L385.45000000000005 232.085Z" fill="#111" stroke="none" stroke-width="0.7"/>
<path d="M387.1 235.35L388.75 238.485L385.45000000000005 238.485Z" fill="#111" stroke="none" stroke-width="0.7"/>
<path d="M416.5 201.4L416.5 188.5L422.5 188.5L422.5 201.4" fill="none" stroke="#303030" stroke-width="0.65"/>
<path d="M416.5 228.5L416.5 212.4M422.5 212.4L422.5 228.5L416.5 228.5" fill="none" stroke="#303030" stroke-width="0.65"/>
<path d="M419.7 173.25L421.45 175L419.7 176.75L417.95 175Z" fill="#111" stroke="none" stroke-width="0.7"/>
<path d="M419.7 177.65L421.45 179.4L419.7 181.15L417.95 179.4Z" fill="#111" stroke="none" stroke-width="0.7"/>
<path d="M419.7 189.65L421.45 191.4L419.7 193.15L417.95 191.4Z" fill="#111" stroke="none" stroke-width="0.7"/>
<path d="M419.7 197.25L421.45 199L419.7 200.75L417.95 199Z" fill="#111" stroke="none" stroke-width="0.7"/>
<path d="M419.7 223.25L421.45 225L419.7 226.75L417.95 225Z" fill="#111" stroke="none" stroke-width="0.7"/>
<path d="M419.7 227.65L421.45 229.4L419.7 231.15L417.95 229.4Z" fill="#111" stroke="none" stroke-width="0.7"/>
<path d="M419.7 229.25L421.45 231L419.7 232.75L417.95 231Z" fill="#111" stroke="none" stroke-width="0.7"/>
<path d="M419.7 233.85L421.45 235.6L419.7 237.35L417.95 235.6Z" fill="#111" stroke="none" stroke-width="0.7"/>
<path d="M419.7 236.25L421.45 238L419.7 239.75L417.95 238Z" fill="#111" stroke="none" stroke-width="0.7"/>
<path d="M419.7 278.65L421.45 280.4L419.7 282.15L417.95 280.4Z" fill="#111" stroke="none" stroke-width="0.7"/>
<path d="M449.5 201.4L449.5 198.5L455.5 198.5L455.5 201.4" fill="none" stroke="#303030" stroke-width="0.65"/>
<path d="M449.5 239.5L449.5 212.4M455.5 212.4L455.5 239.5L449.5 239.5" fill="none" stroke="#303030" stroke-width="0.65"/>
<path d="M452.4 228.29999999999998L454.29999999999995 230.2L452.4 232.1L450.5 230.2Z" fill="#666" stroke="#111" stroke-width="1.0"/>
<path d="M452.4 230.1L454.29999999999995 232L452.4 233.9L450.5 232Z" fill="#666" stroke="#111" stroke-width="1.0"/>
<path d="M452.4 231.9L454.29999999999995 233.8L452.4 235.70000000000002L450.5 233.8Z" fill="#666" stroke="#111" stroke-width="1.0"/>
<path d="M452.4 233.7L454.29999999999995 235.6L452.4 237.5L450.5 235.6Z" fill="#666" stroke="#111" stroke-width="1.0"/>
<path d="M452.4 235.5L454.29999999999995 237.4L452.4 239.3L450.5 237.4Z" fill="#666" stroke="#111" stroke-width="1.0"/>
<path d="M452.4 237.29999999999998L454.29999999999995 239.2L452.4 241.1L450.5 239.2Z" fill="#666" stroke="#111" stroke-width="1.0"/>
<path d="M452.4 239.1L454.29999999999995 241L452.4 242.9L450.5 241Z" fill="#666" stroke="#111" stroke-width="1.0"/>
<path d="M452.4 240.5L454.29999999999995 242.4L452.4 244.3L450.5 242.4Z" fill="#666" stroke="#111" stroke-width="1.0"/>
<path d="M488.5 242.5L488.5 226.5L494.5 226.5L494.5 242.5L488.5 242.5" fill="none" stroke="#303030" stroke-width="0.65"/>
<circle cx="491.45" cy="259" r="1.45" fill="#fff" stroke="#111" stroke-width="1.0"/>
<circle cx="491.45" cy="273.2" r="1.45" fill="#fff" stroke="#111" stroke-width="1.0"/>
<circle cx="491.45" cy="277.5" r="1.45" fill="#fff" stroke="#111" stroke-width="1.0"/>
<circle cx="491.45" cy="280.2" r="1.45" fill="#fff" stroke="#111" stroke-width="1.0"/>
<circle cx="491.45" cy="282.5" r="1.45" fill="#fff" stroke="#111" stroke-width="1.0"/>
<circle cx="491.45" cy="285" r="1.45" fill="#fff" stroke="#111" stroke-width="1.0"/>
<circle cx="491.45" cy="287.3" r="1.45" fill="#fff" stroke="#111" stroke-width="1.0"/>
<circle cx="491.45" cy="289.7" r="1.45" fill="#fff" stroke="#111" stroke-width="1.0"/>
</g>
<g id="E">
<text transform="translate(0.2 381.4) scale(1 0.92)" font-size="12" text-anchor="start" font-weight="bold">E</text>
<line x1="38.2" y1="376.5" x2="38.2" y2="418.6" stroke="#707070" stroke-width="0.9"/>
<line x1="38.2" y1="425.4" x2="38.2" y2="466.6" stroke="#707070" stroke-width="0.9"/>
<line x1="38.2" y1="473.4" x2="38.2" y2="515" stroke="#707070" stroke-width="0.9"/>
<line x1="37" y1="418.6" x2="39.4" y2="418.6" stroke="#7f7f7f" stroke-width="1"/>
<line x1="37" y1="473.4" x2="39.4" y2="473.4" stroke="#7f7f7f" stroke-width="1"/>
<line x1="37" y1="425.4" x2="39.4" y2="425.4" stroke="#7f7f7f" stroke-width="1"/>
<line x1="37.6" y1="514.5" x2="246" y2="514.5" stroke="#999" stroke-width="1.2"/>
<line x1="245.5" y1="514.5" x2="245.5" y2="516.5" stroke="#7f7f7f" stroke-width="1"/>
<line x1="36.4" y1="377" x2="38.2" y2="377" stroke="#7f7f7f" stroke-width="1"/>
<text transform="translate(36.3 380.16) scale(1 0.95)" font-size="9.3" text-anchor="end">50</text>
<line x1="36.4" y1="389" x2="38.2" y2="389" stroke="#7f7f7f" stroke-width="1"/>
<text transform="translate(36.3 392.16) scale(1 0.95)" font-size="9.3" text-anchor="end">40</text>
<line x1="36.4" y1="401.4" x2="38.2" y2="401.4" stroke="#7f7f7f" stroke-width="1"/>
<text transform="translate(36.3 404.56) scale(1 0.95)" font-size="9.3" text-anchor="end">30</text>
<line x1="36.4" y1="413.6" x2="38.2" y2="413.6" stroke="#7f7f7f" stroke-width="1"/>
<text transform="translate(36.3 416.76) scale(1 0.95)" font-size="9.3" text-anchor="end">20</text>
<line x1="36.4" y1="425.4" x2="38.2" y2="425.4" stroke="#7f7f7f" stroke-width="1"/>
<text transform="translate(36.3 428.56) scale(1 0.95)" font-size="9.3" text-anchor="end">15</text>
<line x1="36.4" y1="446" x2="38.2" y2="446" stroke="#7f7f7f" stroke-width="1"/>
<text transform="translate(36.3 449.16) scale(1 0.95)" font-size="9.3" text-anchor="end">10</text>
<line x1="36.4" y1="466.6" x2="38.2" y2="466.6" stroke="#7f7f7f" stroke-width="1"/>
<text transform="translate(36.3 469.76) scale(1 0.95)" font-size="9.3" text-anchor="end">5</text>
<line x1="36.4" y1="481" x2="38.2" y2="481" stroke="#7f7f7f" stroke-width="1"/>
<text transform="translate(36.3 484.16) scale(1 0.95)" font-size="9.3" text-anchor="end">4</text>
<line x1="36.4" y1="497.6" x2="38.2" y2="497.6" stroke="#7f7f7f" stroke-width="1"/>
<text transform="translate(36.3 500.76) scale(1 0.95)" font-size="9.3" text-anchor="end">2</text>
<line x1="36.4" y1="514.4" x2="38.2" y2="514.4" stroke="#7f7f7f" stroke-width="1"/>
<text transform="translate(36.3 517.56) scale(1 0.95)" font-size="9.3" text-anchor="end">0</text>
<text transform="translate(9 444) rotate(-90)" font-size="9.1" text-anchor="middle">Percent of cells</text>
<line x1="73.4" y1="515" x2="73.4" y2="516.7" stroke="#aaa" stroke-width="0.9"/>
<line x1="107.4" y1="515" x2="107.4" y2="516.7" stroke="#aaa" stroke-width="0.9"/>
<line x1="141.8" y1="515" x2="141.8" y2="516.7" stroke="#aaa" stroke-width="0.9"/>
<line x1="176.2" y1="515" x2="176.2" y2="516.7" stroke="#aaa" stroke-width="0.9"/>
<line x1="210.6" y1="515" x2="210.6" y2="516.7" stroke="#aaa" stroke-width="0.9"/>
<text transform="translate(75.6 527.9)" font-size="8.3" text-anchor="middle">Naive</text>
<text transform="translate(107.8 527.9)" font-size="8.0" text-anchor="middle">Memory</text>
<text transform="translate(142.1 527.9)" font-size="8.3" text-anchor="middle">Naive</text>
<text transform="translate(176.8 527.9)" font-size="8.0" text-anchor="middle">Memory</text>
<text transform="translate(211.4 527.9)" font-size="8.0" text-anchor="middle">Memory</text>
<line x1="64.5" y1="532.5" x2="117.5" y2="532.5" stroke="#2a2a2a" stroke-width="0.8"/>
<line x1="64.5" y1="530.2" x2="64.5" y2="534.8" stroke="#2a2a2a" stroke-width="0.8"/>
<line x1="117.5" y1="530.2" x2="117.5" y2="534.8" stroke="#2a2a2a" stroke-width="0.8"/>
<line x1="133.5" y1="532.5" x2="187.5" y2="532.5" stroke="#2a2a2a" stroke-width="0.8"/>
<line x1="133.5" y1="530.2" x2="133.5" y2="534.8" stroke="#2a2a2a" stroke-width="0.8"/>
<line x1="187.5" y1="530.2" x2="187.5" y2="534.8" stroke="#2a2a2a" stroke-width="0.8"/>
<line x1="199.5" y1="532.5" x2="223.5" y2="532.5" stroke="#2a2a2a" stroke-width="0.8"/>
<line x1="199.5" y1="530.2" x2="199.5" y2="534.8" stroke="#2a2a2a" stroke-width="0.8"/>
<line x1="223.5" y1="530.2" x2="223.5" y2="534.8" stroke="#2a2a2a" stroke-width="0.8"/>
<text transform="translate(87.7 542.4)" font-size="8.8" text-anchor="middle">CD4+</text>
<text transform="translate(158.5 542.4)" font-size="8.8" text-anchor="middle">CD8+</text>
<text transform="translate(211 542.4)" font-size="8.8" text-anchor="middle">CD20+</text>
<path d="M70.1 418.7L70.1 406.6L76 406.6L76 418.7" fill="none" stroke="#9a9a9a" stroke-width="1.7"/>
<path d="M70.1 466.3L70.1 425.1M76 425.1L76 466.3" fill="none" stroke="#9a9a9a" stroke-width="1.7"/>
<path d="M70.1 494.2L70.1 473.6M76 473.6L76 494.2L70.1 494.2" fill="none" stroke="#9a9a9a" stroke-width="1.7"/>
<path d="M73 391.2L74.6 394.24L71.4 394.24Z" fill="#111" stroke="none" stroke-width="0.7"/>
<path d="M73 405.7L74.6 408.74L71.4 408.74Z" fill="#111" stroke="none" stroke-width="0.7"/>
<path d="M73 408.59999999999997L74.6 411.64L71.4 411.64Z" fill="#111" stroke="none" stroke-width="0.7"/>
<path d="M73 450.4L74.6 453.44L71.4 453.44Z" fill="#111" stroke="none" stroke-width="0.7"/>
<path d="M73 454.9L74.6 457.94L71.4 457.94Z" fill="#111" stroke="none" stroke-width="0.7"/>
<path d="M73 456.79999999999995L74.6 459.84L71.4 459.84Z" fill="#111" stroke="none" stroke-width="0.7"/>
<path d="M73 496.0L74.6 499.04L71.4 499.04Z" fill="#111" stroke="none" stroke-width="0.7"/>
<path d="M73 505.9L74.6 508.94L71.4 508.94Z" fill="#111" stroke="none" stroke-width="0.7"/>
<path d="M73 511.69999999999993L74.6 514.74L71.4 514.74Z" fill="#111" stroke="none" stroke-width="0.7"/>
<path d="M104.5 418.5L104.5 396.5L110.5 396.5L110.5 418.5" fill="none" stroke="#484848" stroke-width="0.6"/>
<path d="M104.5 439.5L104.5 425.3M110.5 425.3L110.5 439.5L104.5 439.5" fill="none" stroke="#484848" stroke-width="0.6"/>
<path d="M107.4 399.90000000000003L109.10000000000001 403.13L105.7 403.13Z" fill="#fff" stroke="#111" stroke-width="1.0"/>
<path d="M107.4 403.95L109.10000000000001 407.17999999999995L105.7 407.17999999999995Z" fill="#fff" stroke="#111" stroke-width="1.0"/>
<path d="M107.4 407.3L109.10000000000001 410.53L105.7 410.53Z" fill="#fff" stroke="#111" stroke-width="1.0"/>
<path d="M107.4 410.0L109.10000000000001 413.22999999999996L105.7 413.22999999999996Z" fill="#fff" stroke="#111" stroke-width="1.0"/>
<path d="M107.4 412.1L109.10000000000001 415.33L105.7 415.33Z" fill="#fff" stroke="#111" stroke-width="1.0"/>
<path d="M107.4 414.1L109.10000000000001 417.33L105.7 417.33Z" fill="#fff" stroke="#111" stroke-width="1.0"/>
<path d="M107.4 424.6L109.10000000000001 427.83L105.7 427.83Z" fill="#fff" stroke="#111" stroke-width="1.0"/>
<path d="M107.4 428.1L109.10000000000001 431.33L105.7 431.33Z" fill="#fff" stroke="#111" stroke-width="1.0"/>
<path d="M107.4 433.7L109.10000000000001 436.92999999999995L105.7 436.92999999999995Z" fill="#fff" stroke="#111" stroke-width="1.0"/>
<path d="M107.4 436.40000000000003L109.10000000000001 439.63L105.7 439.63Z" fill="#fff" stroke="#111" stroke-width="1.0"/>
<path d="M107.4 438.5L109.10000000000001 441.72999999999996L105.7 441.72999999999996Z" fill="#fff" stroke="#111" stroke-width="1.0"/>
<path d="M107.4 457.5L109.10000000000001 460.72999999999996L105.7 460.72999999999996Z" fill="#fff" stroke="#111" stroke-width="1.0"/>
<path d="M138.5 418.3L138.5 403.5L144.5 403.5L144.5 418.3" fill="none" stroke="#484848" stroke-width="0.6"/>
<path d="M138.5 458.5L138.5 425.6M144.5 425.6L144.5 458.5L138.5 458.5" fill="none" stroke="#484848" stroke-width="0.6"/>
<path d="M141.7 388.9L143.29999999999998 390.5L141.7 392.1L140.1 390.5Z" fill="#111" stroke="none" stroke-width="0.7"/>
<path d="M141.7 390.5L143.29999999999998 392.1L141.7 393.70000000000005L140.1 392.1Z" fill="#111" stroke="none" stroke-width="0.7"/>
<path d="M141.7 392.09999999999997L143.29999999999998 393.7L141.7 395.3L140.1 393.7Z" fill="#111" stroke="none" stroke-width="0.7"/>
<path d="M141.7 407.0L143.29999999999998 408.6L141.7 410.20000000000005L140.1 408.6Z" fill="#111" stroke="none" stroke-width="0.7"/>
<path d="M141.7 411.5L143.29999999999998 413.1L141.7 414.70000000000005L140.1 413.1Z" fill="#111" stroke="none" stroke-width="0.7"/>
<path d="M141.7 414.2L143.29999999999998 415.8L141.7 417.40000000000003L140.1 415.8Z" fill="#111" stroke="none" stroke-width="0.7"/>
<path d="M141.7 428.79999999999995L143.29999999999998 430.4L141.7 432.0L140.1 430.4Z" fill="#111" stroke="none" stroke-width="0.7"/>
<path d="M141.7 435.84999999999997L143.29999999999998 437.45L141.7 439.05L140.1 437.45Z" fill="#111" stroke="none" stroke-width="0.7"/>
<path d="M141.7 437.9L143.29999999999998 439.5L141.7 441.1L140.1 439.5Z" fill="#111" stroke="none" stroke-width="0.7"/>
<path d="M141.7 444.0L143.29999999999998 445.6L141.7 447.20000000000005L140.1 445.6Z" fill="#111" stroke="none" stroke-width="0.7"/>
<path d="M141.7 452.79999999999995L143.29999999999998 454.4L141.7 456.0L140.1 454.4Z" fill="#111" stroke="none" stroke-width="0.7"/>
<path d="M141.7 456.59999999999997L143.29999999999998 458.2L141.7 459.8L140.1 458.2Z" fill="#111" stroke="none" stroke-width="0.7"/>
<path d="M141.7 506.29999999999995L143.29999999999998 507.9L141.7 509.5L140.1 507.9Z" fill="#111" stroke="none" stroke-width="0.7"/>
<path d="M173.5 466.5L173.5 426.5L179.5 426.5L179.5 466.5" fill="none" stroke="#484848" stroke-width="0.6"/>
<path d="M173.5 489.5L173.5 473.7M179.5 473.7L179.5 489.5L173.5 489.5" fill="none" stroke="#484848" stroke-width="0.6"/>
<circle cx="176.4" cy="435" r="1.3" fill="#fff" stroke="#111" stroke-width="0.8"/>
<circle cx="176.4" cy="451.3" r="1.3" fill="#fff" stroke="#111" stroke-width="0.8"/>
<circle cx="176.4" cy="494" r="1.3" fill="#fff" stroke="#111" stroke-width="0.8"/>
<circle cx="176.4" cy="442.9" r="1.6" fill="#333" stroke="#111" stroke-width="0.6"/>
<circle cx="176.4" cy="475.2" r="1.3" fill="#555" stroke="#111" stroke-width="0.8"/>
<circle cx="176.4" cy="476.8" r="1.3" fill="#555" stroke="#111" stroke-width="0.8"/>
<circle cx="176.4" cy="478.4" r="1.3" fill="#555" stroke="#111" stroke-width="0.8"/>
<circle cx="176.4" cy="500.8" r="1.3" fill="#555" stroke="#111" stroke-width="0.8"/>
<circle cx="176.4" cy="502.3" r="1.3" fill="#555" stroke="#111" stroke-width="0.8"/>
<circle cx="176.4" cy="503.8" r="1.3" fill="#555" stroke="#111" stroke-width="0.8"/>
<path d="M176.4 487.8L177.8 489.2L176.4 490.59999999999997L175.0 489.2Z" fill="#111" stroke="none" stroke-width="0.7"/>
<path d="M207.5 466.5L207.5 461.5L213.5 461.5L213.5 466.5" fill="none" stroke="#484848" stroke-width="0.6"/>
<path d="M207.5 515L207.5 473.7M213.5 473.7L213.5 515" fill="none" stroke="#484848" stroke-width="0.6"/>
<line x1="207.5" y1="508.5" x2="213.5" y2="508.5" stroke="#777" stroke-width="0.6"/>
<circle cx="210.6" cy="504.6" r="1.35" fill="#222" stroke="#111" stroke-width="0.5"/>
<circle cx="210.6" cy="506.4" r="1.35" fill="#222" stroke="#111" stroke-width="0.5"/>
<circle cx="210.6" cy="508.2" r="1.35" fill="#222" stroke="#111" stroke-width="0.5"/>
<circle cx="210.6" cy="510" r="1.35" fill="#222" stroke="#111" stroke-width="0.5"/>
<circle cx="210.6" cy="511.8" r="1.35" fill="#222" stroke="#111" stroke-width="0.5"/>
<circle cx="210.6" cy="513.6" r="1.35" fill="#222" stroke="#111" stroke-width="0.5"/>
</g>
</svg>
</body></html>
